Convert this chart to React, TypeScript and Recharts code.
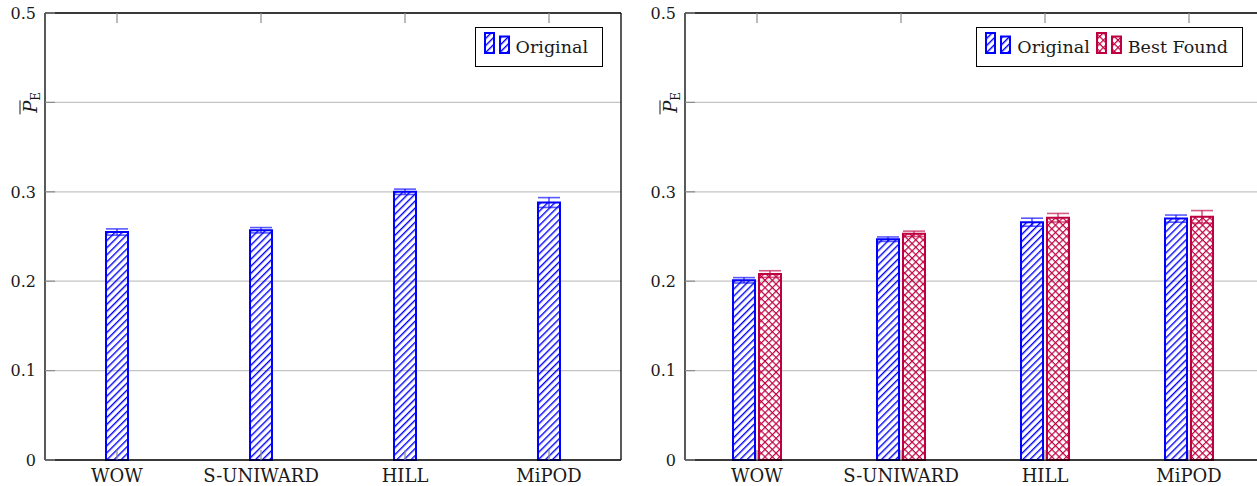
import React from 'react';
import { BarChart, Bar, XAxis, YAxis, CartesianGrid, ErrorBar } from 'recharts';

const categories = ['WOW', 'S-UNIWARD', 'HILL', 'MiPOD'];
const yTicks = [0, 0.1, 0.2, 0.3, 0.4, 0.5];

const leftOriginal = [0.255, 0.257, 0.3, 0.288];
const leftOriginalErr = [0.0035, 0.003, 0.003, 0.0055];

const rightOriginal = [0.201, 0.247, 0.266, 0.27];
const rightOriginalErr = [0.003, 0.0025, 0.0045, 0.004];
const rightBest = [0.208, 0.253, 0.271, 0.272];
const rightBestErr = [0.0037, 0.003, 0.0048, 0.007];

const BLUE = '#0000ff';
const PURPLE = '#bf0040';
const FONT = '"DejaVu Serif", serif';
const TEXT = '#1a1a1a';
const TICK_COLOR = '#8c8c8c';

const leftData = categories.map((name, i) => ({
  name,
  orig: leftOriginal[i],
  origErr: leftOriginalErr[i],
}));

const rightData = categories.map((name, i) => ({
  name,
  orig: rightOriginal[i],
  origErr: rightOriginalErr[i],
  best: rightBest[i],
  bestErr: rightBestErr[i],
}));

const Patterns = ({ prefix }: { prefix: string }) => (
  <defs>
    <pattern id={`${prefix}-hatch`} patternUnits="userSpaceOnUse" width={5} height={5} patternTransform="rotate(45)">
      <line x1={0.7} y1={0} x2={0.7} y2={5} stroke={BLUE} strokeWidth={1.4} />
    </pattern>
    <pattern id={`${prefix}-cross`} patternUnits="userSpaceOnUse" width={5.2} height={5.2} patternTransform="rotate(45)">
      <line x1={0.6} y1={0} x2={0.6} y2={5.2} stroke={PURPLE} strokeWidth={1.2} />
      <line x1={0} y1={0.6} x2={5.2} y2={0.6} stroke={PURPLE} strokeWidth={1.2} />
    </pattern>
  </defs>
);

const LeftTick = (props: any) => {
  const { x, y, payload } = props;
  const v = payload.value as number;
  const ax = x + 9;
  const isLabel = Math.abs(v - 0.4) < 1e-9;
  return (
    <g>
      <line x1={ax} x2={ax + 10} y1={y} y2={y} stroke={TICK_COLOR} strokeWidth={1.2} />
      {isLabel ? (
        <g transform={`translate(${x + 1},${y}) rotate(-90)`}>
          <text x={0} y={0} textAnchor="middle" fontFamily={FONT} fontSize={18} fill={TEXT}>
            <tspan fontStyle="italic">P</tspan>
            <tspan fontSize={12} dy={3}>E</tspan>
          </text>
          <line x1={-12} x2={2} y1={-17} y2={-17} stroke={TEXT} strokeWidth={1} />
        </g>
      ) : (
        <text x={x} y={y} dy="0.36em" textAnchor="end" fontFamily={FONT} fontSize={16} fill={TEXT}>
          {v === 0 ? '0' : String(v)}
        </text>
      )}
    </g>
  );
};

const RightTick = (props: any) => {
  const { x, y } = props;
  return <line x1={x - 10} x2={x} y1={y} y2={y} stroke={TICK_COLOR} strokeWidth={1.2} />;
};

const BottomTick = (props: any) => {
  const { x, y, payload } = props;
  return (
    <g>
      <line x1={x} x2={x} y1={y - 10} y2={y} stroke={TICK_COLOR} strokeWidth={1.2} />
      <text x={x} y={y + 22} textAnchor="middle" fontFamily={FONT} fontSize={18} fill={TEXT}>
        {payload.value}
      </text>
    </g>
  );
};

const TopTick = (props: any) => {
  const { x, y } = props;
  return <line x1={x} x2={x} y1={y} y2={y + 10} stroke={TICK_COLOR} strokeWidth={1.2} />;
};

const frameLine = { stroke: '#000', strokeWidth: 1.3 };

const axes = [
  <XAxis key="xb" dataKey="name" height={26} axisLine={frameLine} tickLine={false} tickSize={0} tickMargin={0} interval={0} tick={BottomTick} />,
  <XAxis key="xt" xAxisId="top" orientation="top" dataKey="name" height={13} axisLine={frameLine} tickLine={false} tickSize={0} tickMargin={0} interval={0} tick={TopTick} />,
  <YAxis key="yl" width={45} domain={[0, 0.5]} ticks={yTicks} axisLine={frameLine} tickLine={false} tickSize={0} tickMargin={9} interval={0} tick={LeftTick} />,
  <YAxis key="yr" yAxisId="right" orientation="right" width={19} domain={[0, 0.5]} ticks={yTicks} axisLine={frameLine} tickLine={false} tickSize={0} tickMargin={0} interval={0} tick={RightTick} />,
];

type LegendItem = { label: string; kind: 'hatch' | 'cross' };

const LegendBox = ({ items, right, prefix }: { items: LegendItem[]; right: number; prefix: string }) => (
  <div
    style={{
      position: 'absolute',
      right,
      top: 27,
      height: 40,
      boxSizing: 'border-box',
      border: '1.3px solid #000',
      background: '#fff',
      display: 'flex',
      alignItems: 'center',
      paddingLeft: 8,
      paddingRight: 8,
      fontFamily: FONT,
      fontSize: 17.5,
      color: TEXT,
    }}
  >
    {items.map((it) => {
      const color = it.kind === 'hatch' ? BLUE : PURPLE;
      return (
        <div key={it.label} style={{ display: 'flex', alignItems: 'center', marginRight: 6 }}>
          <svg width={26} height={22} style={{ position: 'relative', top: -4 }}>
            <Patterns prefix={`${prefix}-${it.kind}`} />
            <rect x={1} y={1} width={9} height={20} fill={`url(#${prefix}-${it.kind}-${it.kind})`} stroke={color} strokeWidth={2} />
            <rect x={16} y={4.5} width={9} height={16.5} fill={`url(#${prefix}-${it.kind}-${it.kind})`} stroke={color} strokeWidth={2} />
          </svg>
          <span style={{ marginLeft: 6 }}>{it.label}</span>
        </div>
      );
    })}
  </div>
);

export default function App() {
  return (
    <div style={{ position: 'absolute', left: 0, top: 0, width: 1257, height: 486, overflow: 'hidden', background: '#fff' }}>
      <div style={{ position: 'absolute', left: 0, top: 0 }}>
        <BarChart width={640} height={486} data={leftData} margin={{ top: 0, right: 0, bottom: 0, left: 0 }} barSize={22}>
          <Patterns prefix="L" />
          <CartesianGrid vertical={false} stroke="#c4c4c4" strokeWidth={1.2} />
          {axes}
          <Bar dataKey="orig" fill="url(#L-hatch)" stroke={BLUE} strokeWidth={2} isAnimationActive={false}>
            <ErrorBar dataKey="origErr" width={11} stroke={BLUE} strokeOpacity={0.65} strokeWidth={1.6} />
          </Bar>
        </BarChart>
      </div>
      <div style={{ position: 'absolute', left: 640, top: 0 }}>
        <BarChart width={640} height={486} data={rightData} margin={{ top: 0, right: 0, bottom: 0, left: 0 }} barSize={22} barGap={4}>
          <Patterns prefix="R" />
          <CartesianGrid vertical={false} stroke="#c4c4c4" strokeWidth={1.2} />
          {axes}
          <Bar dataKey="orig" fill="url(#R-hatch)" stroke={BLUE} strokeWidth={2} isAnimationActive={false}>
            <ErrorBar dataKey="origErr" width={11} stroke={BLUE} strokeOpacity={0.65} strokeWidth={1.6} />
          </Bar>
          <Bar dataKey="best" fill="url(#R-cross)" stroke={PURPLE} strokeWidth={2} isAnimationActive={false}>
            <ErrorBar dataKey="bestErr" width={11} stroke={PURPLE} strokeOpacity={0.65} strokeWidth={1.6} />
          </Bar>
        </BarChart>
      </div>
      <LegendBox prefix="LL" right={1257 - 603} items={[{ label: 'Original', kind: 'hatch' }]} />
      <LegendBox
        prefix="RL"
        right={1257 - 1243}
        items={[
          { label: 'Original', kind: 'hatch' },
          { label: 'Best Found', kind: 'cross' },
        ]}
      />
    </div>
  );
}
